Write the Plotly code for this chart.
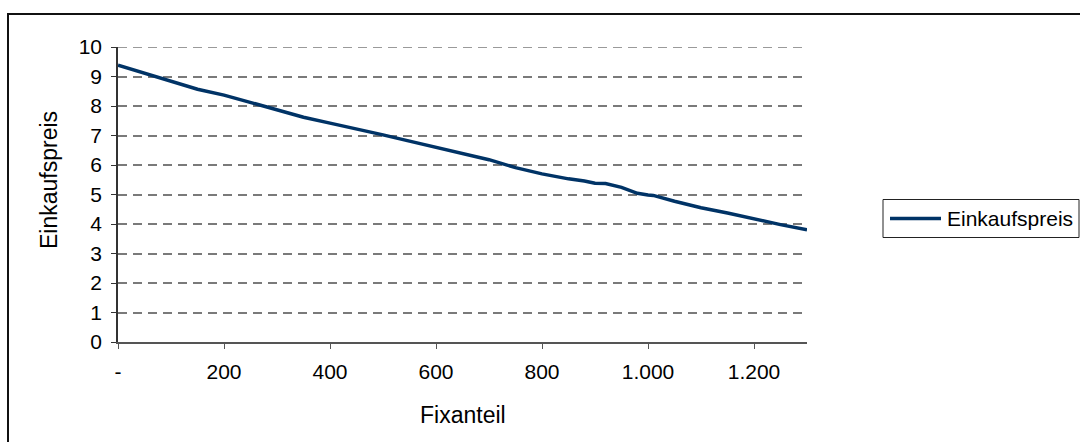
import plotly.graph_objects as go

# Fixanteil (x) and resulting Einkaufspreis (y)
fixanteil = [0, 50, 100, 150, 200, 250, 300, 350, 400, 450, 500, 550, 600, 650,
             700, 750, 800, 850, 880, 900, 920, 950, 980, 1000, 1010, 1050, 1100,
             1150, 1200, 1250, 1300]
einkaufspreis = [9.38, 9.12, 8.85, 8.57, 8.37, 8.11, 7.87, 7.62, 7.42, 7.23, 7.02,
                 6.81, 6.61, 6.40, 6.18, 5.91, 5.70, 5.53, 5.46, 5.38, 5.37, 5.24,
                 5.04, 4.98, 4.97, 4.77, 4.55, 4.37, 4.16, 3.98, 3.80]

x_tickvals = [0, 200, 400, 600, 800, 1000, 1200]
x_ticktext = ["-", "200", "400", "600", "800", "1.000", "1.200"]
y_tickvals = list(range(0, 11))

series_name = "Einkaufspreis"
line_color = "#003366"
grid_color = "#7a7a7a"
grid_dash = "9px,6px"
font_family = "Liberation Sans, Arial, sans-serif"

W, H = 1080, 442
ML, MR, MT, MB = 118, 273, 47, 100
PW, PH = W - ML - MR, H - MT - MB


def px_x(px):
    return (px - ML) / PW


def px_y(py):
    return (H - MB - py) / PH


fig = go.Figure()
fig.add_trace(go.Scatter(
    x=fixanteil, y=einkaufspreis, mode="lines", name=series_name,
    line=dict(color=line_color, width=3.5), showlegend=False,
))

fig.update_layout(
    width=W, height=H,
    margin=dict(l=ML, r=MR, t=MT, b=MB),
    paper_bgcolor="white", plot_bgcolor="white",
    font=dict(family=font_family, color="black", size=21),
    xaxis=dict(
        range=[0, 1300], tickvals=x_tickvals, ticktext=x_ticktext,
        showgrid=False, zeroline=False, showline=True, linecolor="#555555",
        linewidth=1.5, ticks="outside", ticklen=5, tickcolor="#555555",
        tickfont=dict(size=21), ticklabelstandoff=5, fixedrange=True,
    ),
    yaxis=dict(
        range=[0, 10], tickvals=y_tickvals,
        showgrid=True, gridcolor=grid_color, gridwidth=1.5, griddash=grid_dash,
        zeroline=False, showline=True, linecolor="#333333", linewidth=1.5,
        ticks="outside", ticklen=5, tickcolor="#333333",
        tickfont=dict(size=21), ticklabelstandoff=5, fixedrange=True,
    ),
    shapes=[
        # top gridline at the upper end of the value axis
        dict(type="line", xref="paper", yref="y", x0=0, x1=1, y0=10, y1=10,
             line=dict(color=grid_color, width=1.5, dash=grid_dash), layer="below"),
        # outer chart frame
        dict(type="rect", xref="paper", yref="paper",
             x0=px_x(8), x1=px_x(1095), y0=px_y(460), y1=px_y(14),
             line=dict(color="#111111", width=2)),
        # legend box
        dict(type="rect", xref="paper", yref="paper",
             x0=px_x(883), x1=px_x(1079), y0=px_y(237.5), y1=px_y(199.5),
             line=dict(color="#222222", width=1), fillcolor="white"),
        # legend line sample
        dict(type="line", xref="paper", yref="paper",
             x0=px_x(890), x1=px_x(941), y0=px_y(218.5), y1=px_y(218.5),
             line=dict(color=line_color, width=3.5)),
    ],
    annotations=[
        dict(text=series_name, xref="paper", yref="paper",
             x=px_x(945), y=px_y(218.5), xanchor="left", yanchor="middle",
             showarrow=False, font=dict(size=21)),
        dict(text="Fixanteil", xref="paper", yref="paper",
             x=px_x(463), y=px_y(415), xanchor="center", yanchor="middle",
             showarrow=False, font=dict(size=23)),
        dict(text="Einkaufspreis", xref="paper", yref="paper",
             x=px_x(49), y=px_y(180), xanchor="center", yanchor="middle",
             textangle=-90, showarrow=False, font=dict(size=23)),
    ],
)

fig.write_html("out.html", config={"displayModeBar": False})
